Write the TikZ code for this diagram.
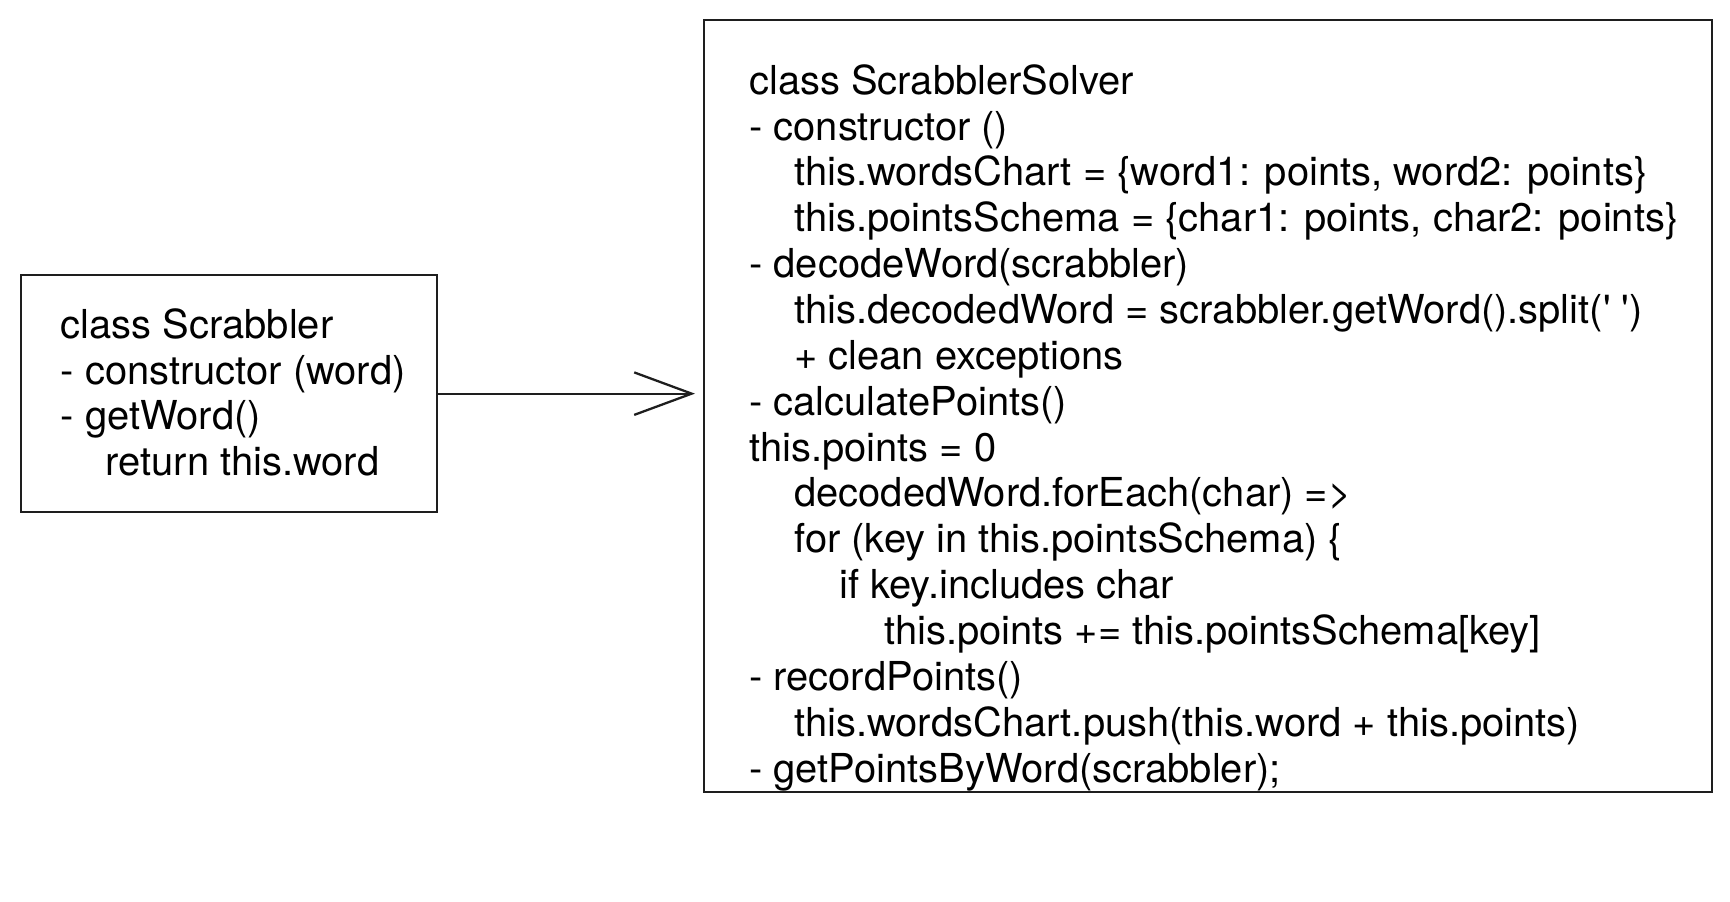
\documentclass[tikz,border=0pt]{standalone}
\usepackage{fontspec}
\setmainfont{TeX Gyre Heros}
\usetikzlibrary{arrows.meta, positioning}
\definecolor{inkblack}{HTML}{1E1E1E}
\newcommand{\codeindent}{\hspace*{0.9cm}}
\tikzset{
  classbox/.style={
    rectangle, draw=inkblack, line width=1.3pt, inner sep=0pt
  },
  codetext/.style={
    rectangle, inner sep=0pt, align=left, text=black,
    font=\fontsize{22.7pt}{26.1pt}\selectfont
  },
  arrow/.style={-{Straight Barb[length=1.15cm, width=0.85cm]},
    line width=1.3pt, draw=inkblack, shorten >=0.16cm}
}
\begin{document}
\begin{tikzpicture}
    \useasboundingbox (0,0) rectangle (34.6,-18.04);

    % Scrabbler
    \node[classbox, minimum width=8.32cm, minimum height=4.74cm,
          anchor=north west] (scrabbler) at (0.4,-5.48) {};
    \node[codetext, anchor=north west] (scrabblertext) at (1.21,-6.16)
      {class Scrabbler\\
       - constructor (word)\\
       - getWord()\\
       \codeindent return this.word};

    % ScrabblerSolver
    \node[classbox, minimum width=20.16cm, minimum height=15.44cm,
          anchor=north west] (solver) at (14.06,-0.38) {};
    \node[codetext, anchor=north west] (solvertext) at (14.98,-1.28)
      {class ScrabblerSolver\\
       - constructor ()\\
       \codeindent this.wordsChart = \{word1: points, word2: points\}\\
       \codeindent this.pointsSchema = \{char1: points, char2: points\}\\
       - decodeWord(scrabbler)\\
       \codeindent this.decodedWord = scrabbler.getWord().split(\textquotesingle\ \textquotesingle)\\
       \codeindent + clean exceptions\\
       - calculatePoints()\\
       this.points = 0\\
       \codeindent decodedWord.forEach(char) =>\\
       \codeindent for (key in this.pointsSchema) \{\\
       \codeindent\codeindent if key.includes char\\
       \codeindent\codeindent\codeindent this.points += this.pointsSchema[key]\\
       - recordPoints()\\
       \codeindent this.wordsChart.push(this.word + this.points)\\
       - getPointsByWord(scrabbler);};

    % Flecha
    \draw[arrow] (scrabbler.east) -- (scrabbler.east -| solver.west);
\end{tikzpicture}
\end{document}
